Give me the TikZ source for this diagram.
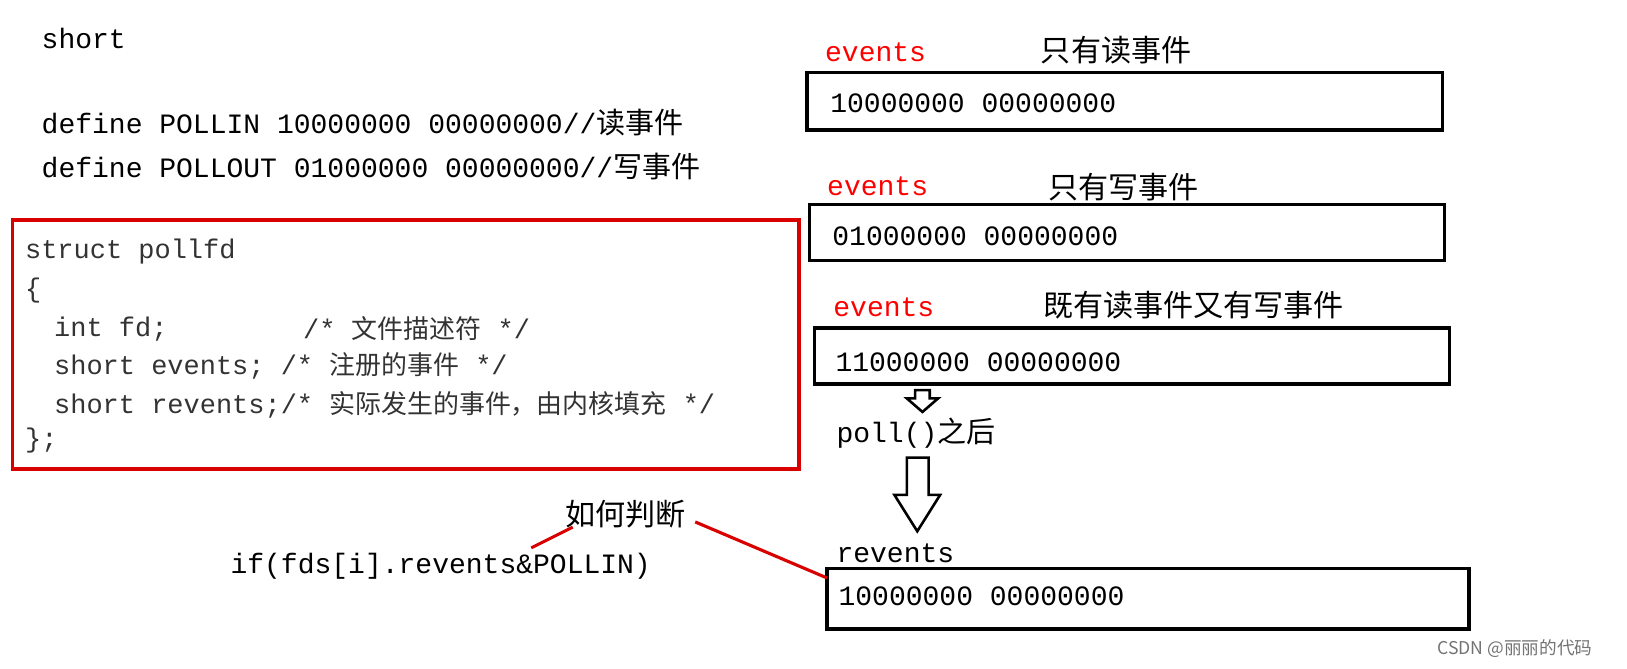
\documentclass[tikz,border=0pt]{standalone}
\usepackage{fontspec}
\setmonofont{Liberation Mono}
\newfontfamily\cjk{Noto Sans CJK SC}
\begin{document}
\begin{tikzpicture}[x=1pt,y=-1pt,
  mono/.style={font=\fontsize{27}{29}\selectfont\ttfamily,anchor=west,inner sep=0pt},
  code/.style={font=\fontsize{26}{27}\selectfont\ttfamily,anchor=west,inner sep=0pt,text=black!80},
  blk/.style={draw,line width=3.5pt},
  redl/.style={draw=red!85!black,line width=3pt}]
\useasboundingbox (0,0) rectangle (1568,644);
\node[mono] (s) at (40,37) {short};
\node[mono] (d1) at (40,118) {define POLLIN 10000000 00000000//{\cjk\fontsize{28}{30}\selectfont 读事件}};
\node[mono] (d2) at (40,160) {define POLLOUT 01000000 00000000//{\cjk\fontsize{28}{30}\selectfont 写事件}};
\draw[redl] (12,212) rectangle (770,452);
\node[code] (c1) at (24,242) {struct pollfd};
\node[code] (c2) at (24,280) {\{};
\node[code] (c3) at (52,317) {int fd;};
\node[code] (c3b) at (292,317) {/* {\cjk\fontsize{25}{26}\selectfont 文件描述符} */};
\node[code] (c4) at (52,353) {short events; /* {\cjk\fontsize{25}{26}\selectfont 注册的事件} */};
\node[code] (c5) at (52,390) {short revents;/* {\cjk\fontsize{25}{26}\selectfont 实际发生的事件，由内核填充} */};
\node[code] (c6) at (24,425) {\};};
% right column
\node[mono,text=red] (e1) at (795,50) {events};
\node[mono,font=\fontsize{29}{30}\selectfont\cjk] (t1) at (1003,48) {只有读事件};
\draw[blk] (778,70) rectangle (1390,125);
\node[mono] (v1) at (800,100) {10000000 00000000};
\node[mono,text=red] (e2) at (797,180) {events};
\node[mono,font=\fontsize{29}{30}\selectfont\cjk] (t2) at (1010,180) {只有写事件};
\draw[blk] (780,197) rectangle (1392,251);
\node[mono] (v2) at (802,228) {01000000 00000000};
\node[mono,text=red] (e3) at (803,296) {events};
\node[mono,font=\fontsize{29}{30}\selectfont\cjk] (t3) at (1005,294) {既有读事件又有写事件};
\draw[blk] (785,316) rectangle (1397,370);
\node[mono] (v3) at (805,349) {11000000 00000000};
% small arrow
\draw[line width=2.5pt,line join=miter] (882,376) -- (896,376) -- (896,384) -- (904,384) -- (889,397) -- (874,384) -- (882,384) -- cycle;
\node[mono] (p) at (806,417) {poll(){\cjk\fontsize{28}{30}\selectfont 之后}};
% big arrow
\draw[line width=2.5pt,line join=miter] (874,441) -- (895,441) -- (895,477) -- (906,477) -- (884,512) -- (862,477) -- (874,477) -- cycle;
\node[mono] (r) at (806,533) {revents};
\draw[blk] (797,548) rectangle (1416,606);
\node[mono] (v4) at (808,575) {10000000 00000000};
\node[mono,font=\fontsize{29}{30}\selectfont\cjk] (h) at (545,495) {如何判断};
\node[mono] (iff) at (222,546) {if(fds[i].revents\&POLLIN)};
\draw[redl] (512,528) -- (552,508);
\draw[redl] (670,503) -- (797,557);
\node[anchor=west,inner sep=0pt,text=black!55,font=\fontsize{17}{18}\selectfont\cjk] (w) at (1385,625) {CSDN @丽丽的代码};
\end{tikzpicture}
\end{document}
